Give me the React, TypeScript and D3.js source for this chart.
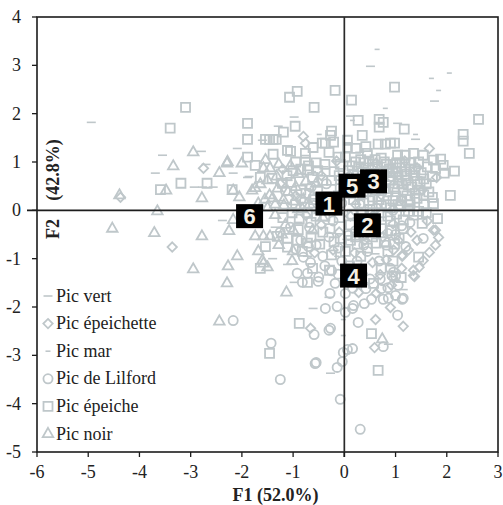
import React from "react";
import * as d3 from "d3";

type P = [number, number];

const xTicks = [-6, -5, -4, -3, -2, -1, 0, 1, 2, 3];
const yTicks = [4, 3, 2, 1, 0, -1, -2, -3, -4, -5];

const picVert: P[] = [[-4.94,1.82],[-3.55,1.14],[-3.69,.77],[-2.79,1.22],[-2.7,.95],[-2.09,1.28],[-2.17,.77],[-2.93,.48],[-2.77,.48],[-2.56,.48],[-2.38,-.21],[-1.89,.68],[-1.86,.7],[-1.29,1.74],[-1.6,1.45],[.51,2.98],[1.76,2.26],[-.98,1.93],[.12,1.95],[1.04,1.8],[1.39,1.47],[-.61,-2.03],[-.27,-3.37],[.86,-2.77],[-.98,-1.49],[-1.11,-1.12],[1.15,-1.64],[-1.1,.62],[-.7,.42],[-.4,.9],[.3,1.2],[-1.25,.2],[-.9,-.25],[-.5,-.62],[-.72,-.95],[-1.35,-.35],[-.2,.3],[.9,.95],[1.3,.1],[.6,-.9],[-1.4,-1.0],[-.3,-1.8],[.05,-.6]];
const picMar: P[] = [[.64,3.33],[2.05,2.84],[1.7,2.73],[1.84,2.48],[.8,2.11],[-.49,1.57],[.16,1.86],[1.39,1.57],[-.02,-2.26],[-.02,-2.59],[-.6,.8],[.4,1.1],[-1,.05],[-.15,-.95],[.75,-1.55]];
const picEpeichette: P[] = [[-4.37,.27],[-2.75,.87],[-3.36,-.76],[-.8,1.53],[-.76,1.39],[1.66,1.28],[1.78,-.41],[1.84,-.56],[1.74,-.41],[1.78,-.72],[1.66,-.87],[1.54,-1.04],[1.46,-1.18],[1.35,-1.24],[1.37,-1.37],[1.13,-.93],[.96,-.82],[.61,-2.26],[1.15,-2.4],[.9,-2.01],[-.66,-2.44],[.59,-2.84],[1.35,-1.35],[.7,-1.33],[1.13,-.95],[-.45,.72],[-.15,1.02],[.1,.72],[.62,.98],[1.05,.72],[1.42,.88],[1.8,.68],[1.52,.42],[1.12,.22],[.72,.32],[.22,.12],[.55,-.12],[.95,-.28],[1.3,-.45],[.4,-.62],[.75,-.55],[1.05,-.62],[.2,-.88],[.55,-1.08],[.82,-1.02],[1.12,-1.2],[.35,-1.3],[-.1,-.45],[-.45,-.3],[-.75,-.1],[-.95,.3],[-1.25,.55],[-1.2,.85],[.92,-1.55],[.62,-1.72],[.28,-1.7],[1.62,-.22],[1.42,-.62],[1.25,-.82],[.48,-.28],[.12,-.12],[-.22,-.82],[-.58,-.88],[.82,.58],[1.18,1.02],[.95,-1.4]];
const picLilford: P[] = [[.31,-4.53],[-.08,-3.91],[-1.25,-3.5],[-.14,-3.25],[-.04,-3.13],[-.57,-3.17],[-.55,-3.15],[-1.43,-2.75],[-.59,-2.57],[-.27,-2.44],[-.3,-2.48],[.16,-2.86],[.06,-2.88],[-.02,-2.94],[.27,-2.32],[1.04,-2.17],[.76,-2.82],[-.37,-2.03],[-.14,-1.99],[.18,-1.97],[.16,-2.03],[.39,-1.93],[.53,-1.84],[.76,-1.84],[.86,-1.82],[1,-1.76],[1.13,-1.84],[.02,-2.11],[-.72,-1.3],[-.82,-1.49],[-.51,-1.47],[-.18,-1.51],[.16,-1.61],[-.8,-.97],[-.66,-1.08],[.96,-1.28],[.93,-1.35],[1.0,-1.36],[.9,-1.2],[-2.17,-2.28],[1.54,-.58],[1.15,-1.82],[-.5,-1.38],[-.25,-1.25],[-.42,-.95],[-.12,-.78],[-.55,-.72],[-.85,-.62],[-1.05,-.35],[-.3,-.55],[-.05,-1.05],[.25,-1.05],[.45,-.85],[.68,-1.05],[.82,-.72],[.55,-.42],[.22,-.42],[1.2,-.75],[1.0,-.5],[1.28,-.25],[.95,.0],[.62,.05],[.3,.12],[-.05,.15],[-.6,.1],[-.85,.22],[-1.15,.4],[-.65,.48],[-.35,.55],[-.92,-1.3],[-.38,-1.15],[.5,-1.42],[.72,-1.62],[1.05,-1.55],[.42,-1.62],[-.28,-1.72],[.02,-1.72],[-.68,-.35],[-.22,-.22],[.08,-.52],[.38,-.72],[.62,-.22],[.85,-.48],[1.12,-.32],[.28,-1.22],[.12,-1.42],[-.12,-1.32],[.7,-1.42],[.85,-1.6],[-.95,-.8],[-.7,-.75],[-1.25,-.45]];
const picEpeiche: P[] = [[-3.1,2.13],[-3.4,1.7],[-1.89,1.8],[-1.89,1.47],[-1.89,1.1],[-3.19,.56],[-3.59,.43],[-2.68,.56],[-2.19,.43],[-1.46,1.47],[-1.39,1.47],[-1.19,1.62],[-1.39,1.16],[-1.11,1.24],[-1.74,.93],[-1.64,.68],[-1.41,.66],[-1.21,.56],[-1.05,.58],[-1.54,1.47],[-1.33,1.47],[-1.05,1.22],[-.92,2.46],[-1.07,2.34],[-.18,2.48],[-.59,2.13],[.14,2.28],[.98,2.55],[2.62,1.88],[2.32,1.57],[2.32,1.43],[2.44,1.18],[2.07,.31],[-.96,1.74],[.27,1.86],[.68,1.88],[.76,1.82],[.68,1.72],[1.17,1.68],[.35,1.55],[-.25,1.64],[-.27,1.55],[-.37,1.39],[-.21,1.41],[-.43,1.39],[.06,1.45],[.06,1.3],[.8,1.37],[.9,1.39],[.98,1.39],[.66,1.37],[-.61,1.3],[-.76,1.18],[-.76,1.04],[-.72,.83],[1.04,1.14],[1.19,1.14],[1.35,1.18],[1.54,1.14],[1.74,1.04],[1.88,1.06],[1.93,.93],[2.15,.81],[1.95,.77],[1.78,.87],[1.82,-.17],[1.52,-.27],[1.72,.27],[1.74,.14],[1.07,-.58],[1.45,-.97],[1.11,-1.39],[-1.46,-2.96],[-.88,-2.34],[.53,-2.55],[.66,-3.31],[-.29,-1.24],[-.72,-1.49],[.57,-1.51],[-1.64,-1.2],[-1.54,-.75],[-1.31,-.54],[-1.11,-.58],[-1.11,-.76],[-.9,-.4],[-.65,-.25],[-.45,.2],[-.52,.42],[-.2,.8],[-.38,.95],[-.12,1.1],[.15,.92],[.32,1.05],[.45,1.18],[.55,.95],[.72,1.08],[.88,.85],[1.02,.98],[1.18,.9],[1.3,.98],[1.45,1.0],[1.5,.78],[1.62,.9],[1.35,.72],[1.2,.62],[1.05,.55],[.9,.62],[.75,.78],[.62,.72],[.35,.78],[.2,.58],[.12,.35],[.3,.32],[.48,.2],[.68,.22],[.85,.38],[1.0,.3],[1.15,.42],[1.32,.48],[1.48,.55],[1.6,.55],[1.42,.25],[1.28,.12],[1.1,.08],[.82,.12],[.5,.02],[1.55,.12],[1.6,-.05],[1.35,-.1],[1.15,-.2],[.85,-.12],[.3,-.18],[.12,-.3],[.72,-.38],[.92,-.42],[1.15,-.38],[.38,-.5],[.62,-.68],[.85,-.85],[.25,-.7],[.02,-.85],[-.2,-.65],[-.42,-.45],[-.65,-.55],[-.82,-.85],[-.62,-1.2],[-.28,-.38],[-.1,-.15],[-.3,.02],[-.72,-.05],[-.95,.12],[-.85,.42],[-.62,.68],[-.52,.82],[-.35,.28],[-.08,.45],[.05,.6],[1.42,.6],[1.22,.75],[1.0,.8],[.5,.5],[.78,.45],[1.05,.12],[.95,.2],[1.38,.35],[.42,1.32],[.22,1.28],[.02,1.1],[-.08,.95],[-.95,1.0],[-.55,.98],[-.3,1.2],[.6,.6],[.42,.88],[-1.2,-.15],[.1,-1.15],[.32,-.95],[.95,-1.05],[.72,-1.2],
  [.95,.95],[1.02,.88],[1.08,.98],[.95,.78],[1.05,.68],[1.12,.8],[.9,.7],[.82,.95],[.65,.9],[.52,.75],[.28,.9],[.18,.75],[.08,.82],[.22,1.0],[.38,.98],[.48,1.02],[.6,1.05],[.78,1.0],[.72,.62],[.62,.42],[.42,.38],[.25,.45],[.38,.15],[.18,.22],[.55,.28],[.72,.1],[.9,.05],[1.22,.3],[1.12,.2],[1.28,.22],[1.45,.42],[.98,.45],[1.12,.55],[1.25,.52],[1.55,.32],[1.65,.38],[1.38,.85],[1.28,.85],[1.55,.65],[1.72,.7],[.55,-.05],[.35,-.08],[.15,-.08],[.72,-.05],[1.02,-.08],[1.25,-.02],[1.45,-.02],[.9,-.22],[.6,-.3],[.42,-.32],[.22,-.55],[.55,-.55],[.78,-.65],[.98,-.7],[.45,-.78],[.12,-.62],[-.08,-.58],[-.25,-.92],[-.48,-.7],[-.72,-.68],[-.92,-.62],[-.38,-.12],[-.55,-.12],[-.88,-.18],[-1.02,-.05],[-.6,.22],[-.75,.35],[-.42,.62],[-.25,.62],[-.1,.72],[-.25,.18],[-.12,.3],[-.7,.92],[-.85,.85],[-1.0,.82],[-1.12,.72]];
const picNoir: P[] = [[-2.95,1.2],[-3.34,.91],[-3.48,.41],[-2.78,.25],[-2.44,.77],[-2.29,.97],[-2.28,1.0],[-2,.97],[-2.17,.41],[-2.05,.27],[-3.65,-.02],[-4.53,-.38],[-3.71,-.47],[-2.78,-.54],[-2.25,-.43],[-2.17,-.2],[-4.39,.31],[-2.95,-1.22],[-2.27,-1.16],[-2.09,-.95],[-2.29,-1.51],[-2.44,-2.3],[-1.74,-.54],[-1.58,-.54],[-1.68,-.85],[-1.6,-1.04],[-1.5,-1.18],[-1.13,-1.7],[-1.54,1.04],[-1.58,.87],[-1.45,.87],[-1.8,.41],[-1.64,.54],[-1.74,.46],[-1.46,.31],[-1.19,.21],[-1.68,.14],[-1.45,-.54],[-1.58,-1.1],[.74,-2.67],[-1.35,.12],[-1.1,.38],[-1.5,.05],[-1.15,-.3],[-1.0,-.42],[-1.28,-.72],[-1.0,-.85],[-.8,.22],[-.62,.3],[-.75,.6],[-.9,.75],[-1.32,.7],[-1.05,.92],[-.82,.02],[-.55,.55],[-.48,.0],[-.18,.05],[-1.02,-1.05],[-.62,-.42],[-.42,-.15],[-1.3,.45],[-1.18,.1],[-1.4,.25],[-.98,.18],[-.9,.02],[-1.22,-.5],[-1.35,-.1],[-1.5,.62],[-1.28,.95],[-.68,.12],[-1.55,.22],[-.95,.48]];

const groups: { name: string; data: P[]; shape: "dash" | "short" | "tri" | "sq" | "circ" | "dia" }[] = [
  { name: "Pic vert", data: picVert, shape: "dash" },
  { name: "Pic épeichette", data: picEpeichette, shape: "dia" },
  { name: "Pic mar", data: picMar, shape: "short" },
  { name: "Pic de Lilford", data: picLilford, shape: "circ" },
  { name: "Pic épeiche", data: picEpeiche, shape: "sq" },
  { name: "Pic noir", data: picNoir, shape: "tri" },
];

const centroidLabels = ["1", "2", "3", "4", "5", "6"];
const centroidX = [-0.3, 0.45, 0.57, 0.18, 0.15, -1.85];
const centroidY = [0.14, -0.31, 0.6, -1.35, 0.51, -0.12];

const GREY = "#bfc7ca";
const INK = "#1c1c1c";
const serif = "'Liberation Serif', serif";

const x = d3.scaleLinear().domain([-6, 3]).range([37, 498]);
const y = d3.scaleLinear().domain([-5, 4]).range([452, 17]);

const symbolFor = {
  tri: d3.symbol(d3.symbolTriangle, 48)(),
  sq: d3.symbol(d3.symbolSquare, 81)(),
  circ: d3.symbol(d3.symbolCircle, 66)(),
  dia: d3.symbol(d3.symbolDiamond2, 56)(),
} as Record<string, string>;

function Marker({ shape, cx, cy }: { shape: string; cx: number; cy: number }) {
  if (shape === "dash" || shape === "short") {
    const w = shape === "dash" ? 4.5 : 2.5;
    return <line x1={cx - w} x2={cx + w} y1={cy} y2={cy} stroke={GREY} strokeWidth={1.6} />;
  }
  return (
    <path
      d={symbolFor[shape]}
      transform={`translate(${cx},${cy})`}
      fill="none"
      stroke={GREY}
      strokeWidth={1.8}
    />
  );
}

export default function App() {
  return (
    <svg
      width={503}
      height={505}
      style={{ position: "absolute", left: 0, top: 0, background: "#fff" }}
      fontFamily={serif}
    >
      {groups.map((g) => (
        <g key={g.name}>
          {g.data.map((d, i) => (
            <Marker key={i} shape={g.shape} cx={x(d[0])} cy={y(d[1])} />
          ))}
        </g>
      ))}

      <rect x={x(-6)} y={y(4)} width={x(3) - x(-6)} height={y(-5) - y(4)} fill="none" stroke={INK} strokeWidth={1.6} />
      <line x1={x(0)} x2={x(0)} y1={y(4)} y2={y(-5) + 5} stroke="#2a2a2a" strokeWidth={1.7} />
      <line x1={x(-6) - 10} x2={x(3)} y1={y(0)} y2={y(0)} stroke={INK} strokeWidth={1.7} />

      {xTicks.map((t) => (
        <g key={t}>
          <line x1={x(t)} x2={x(t)} y1={y(-5)} y2={y(-5) + 5} stroke={INK} strokeWidth={1.3} />
          <text x={x(t)} y={y(-5) + 26} textAnchor="middle" fontSize={18} fill="#222">{t}</text>
        </g>
      ))}
      {yTicks.map((t) => (
        <g key={t}>
          <line x1={x(-6) - 5} x2={x(-6)} y1={y(t)} y2={y(t)} stroke={INK} strokeWidth={1.3} />
          <text x={21} y={y(t) + 6} textAnchor="end" fontSize={18} fill="#222">{t}</text>
        </g>
      ))}

      <text x={275.5} y={500.5} textAnchor="middle" fontSize={18} fontWeight="bold" fill="#222">F1 (52.0%)</text>
      <text transform="translate(59,229) rotate(-90)" textAnchor="middle" fontSize={18} fontWeight="bold" fill="#222">F2</text>
      <text transform="translate(59,170) rotate(-90)" textAnchor="middle" fontSize={18} fontWeight="bold" fill="#222">(42.8%)</text>

      {groups.map((g, i) => {
        const ly = 296 + i * 27.6;
        return (
          <g key={g.name}>
            <Marker shape={g.shape} cx={48} cy={ly} />
            <text x={56} y={ly + 5.5} fontSize={18} fill="#222">{g.name}</text>
          </g>
        );
      })}

      {centroidLabels.map((c, i) => (
        <g key={c} transform={`translate(${x(centroidX[i])},${y(centroidY[i])})`}>
          <rect x={-13.5} y={-12} width={27} height={24} fill="#000" />
          <text y={8} textAnchor="middle" fontSize={22} fontWeight="bold" fontFamily="'Liberation Sans', sans-serif" fill="#f5f1e6">{c}</text>
        </g>
      ))}
    </svg>
  );
}
